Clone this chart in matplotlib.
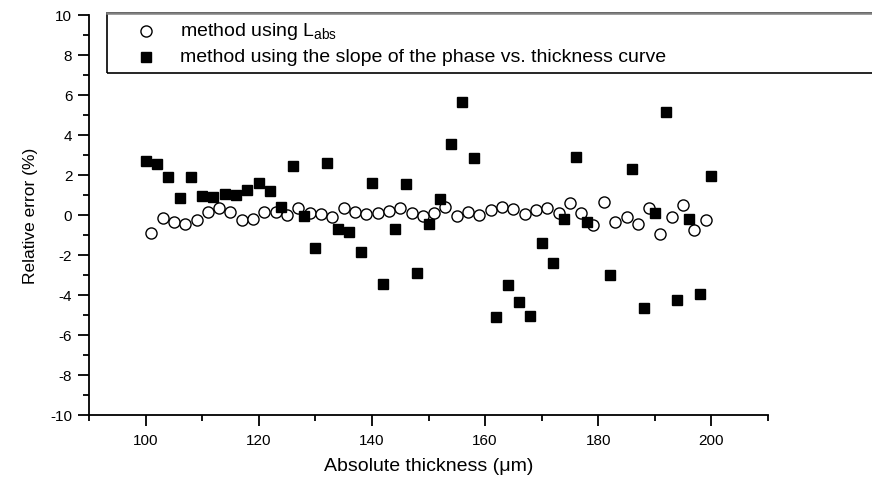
import matplotlib
matplotlib.use("Agg")
import matplotlib.pyplot as plt
from matplotlib.lines import Line2D
from matplotlib.patches import Rectangle
from matplotlib.ticker import MultipleLocator

plt.rcParams["font.family"] = ["Liberation Sans", "DejaVu Sans"]
plt.rcParams["axes.unicode_minus"] = False

# method using L_abs (open circles)
labs_x = [101, 103, 105, 107, 109, 111, 113, 115, 117, 119,
          121, 123, 125, 127, 129, 131, 133, 135, 137, 139,
          141, 143, 145, 147, 149, 151, 153, 155, 157, 159,
          161, 163, 165, 167, 169, 171, 173, 175, 177, 179,
          181, 183, 185, 187, 189, 191, 193, 195, 197, 199]
labs_err = [-0.88, -0.17, -0.33, -0.47, -0.25, 0.13, 0.33, 0.15, -0.27, -0.18,
            0.17, 0.17, 0.0, 0.35, 0.08, 0.03, -0.1, 0.33, 0.17, 0.03,
            0.1, 0.22, 0.33, 0.1, -0.05, 0.1, 0.4, -0.05, 0.17, 0.0,
            0.27, 0.42, 0.3, 0.07, 0.25, 0.37, 0.12, 0.58, 0.12, -0.52,
            0.63, -0.37, -0.1, -0.47, 0.37, -0.95, -0.12, 0.52, -0.77, -0.25]

# method using the slope of the phase vs. thickness curve (filled squares)
slope_x = [100, 102, 104, 106, 108, 110, 112, 114, 116, 118,
           120, 122, 124, 126, 128, 130, 132, 134, 136, 138,
           140, 142, 144, 146, 148, 150, 152, 154, 156, 158,
           162, 164, 166, 168, 170, 172, 174, 176, 178,
           182, 186, 188, 190, 192, 194, 196, 198, 200]
slope_err = [2.72, 2.55, 1.92, 0.85, 1.88, 0.93, 0.88, 1.05, 1.0, 1.27,
             1.62, 1.2, 0.38, 2.45, -0.03, -1.65, 2.62, -0.68, -0.85, -1.83,
             1.62, -3.43, -0.68, 1.55, -2.88, -0.47, 0.82, 3.57, 5.67, 2.85,
             -5.08, -3.48, -4.35, -5.07, -1.42, -2.42, -0.2, 2.92, -0.35,
             -2.98, 2.32, -4.65, 0.12, 5.13, -4.27, -0.2, -3.93, 1.95]

legend_labels = ["method using L$_{\\mathregular{abs}}$",
                 "method using the slope of the phase vs. thickness curve"]

W, H = 872, 481
fig = plt.figure(figsize=(W / 100, H / 100), dpi=100)
ax = fig.add_axes([89 / W, 1 - 416 / H, (768 - 89) / W, (416 - 16) / H])

ax.plot(labs_x, labs_err, linestyle="none", marker="o", markersize=8,
        markerfacecolor="white", markeredgecolor="black", markeredgewidth=1.0, zorder=3)
ax.plot(slope_x, slope_err, linestyle="none", marker="s", markersize=7,
        markerfacecolor="black", markeredgecolor="black", zorder=4)

ax.set_xlim(90, 210)
ax.set_ylim(-10, 10)
ax.set_xticks([100, 120, 140, 160, 180, 200])
ax.xaxis.set_minor_locator(MultipleLocator(10))
ax.yaxis.set_major_locator(MultipleLocator(2))
ax.yaxis.set_minor_locator(MultipleLocator(1))

for side in ("top", "right"):
    ax.spines[side].set_visible(False)
for side in ("left", "bottom"):
    ax.spines[side].set_linewidth(1.3)

ax.tick_params(which="major", direction="out", length=8, width=1.3, labelsize=11)
ax.tick_params(which="minor", direction="out", length=4.5, width=1.3)
ax.tick_params(axis="x", pad=5)
ax.tick_params(axis="y", pad=4)

ax.set_xlabel("Absolute thickness (\u03bcm)", fontsize=14, labelpad=7)
ax.set_ylabel("Relative error (%)", fontsize=12.5, labelpad=9)

# legend box running off the right edge, drawn in pixel coordinates
to_fig = lambda px, py: (px / W, 1 - py / H)
x0, y0 = to_fig(107, 74)
fig.add_artist(Rectangle((x0, y0), (900 - 107) / W, 60 / H, transform=fig.transFigure,
                         fill=False, edgecolor="black", linewidth=1.2, clip_on=False))
fig.add_artist(Line2D([107 / W, 1.05], [1 - 14 / H] * 2, transform=fig.transFigure,
                      color="#808080", linewidth=1.8))

for (py, mk, fc), label in zip([(32, "o", "white"), (58, "s", "black")], legend_labels):
    mx, my = to_fig(146, py)
    fig.add_artist(Line2D([mx], [my], transform=fig.transFigure, linestyle="none",
                          marker=mk, markersize=8 if mk == "o" else 7,
                          markerfacecolor=fc, markeredgecolor="black", markeredgewidth=1.0))
    tx, ty = to_fig(180, py)
    fig.text(tx, ty, label, fontsize=14, va="center", ha="left")

fig.savefig("out.png", dpi=100)
